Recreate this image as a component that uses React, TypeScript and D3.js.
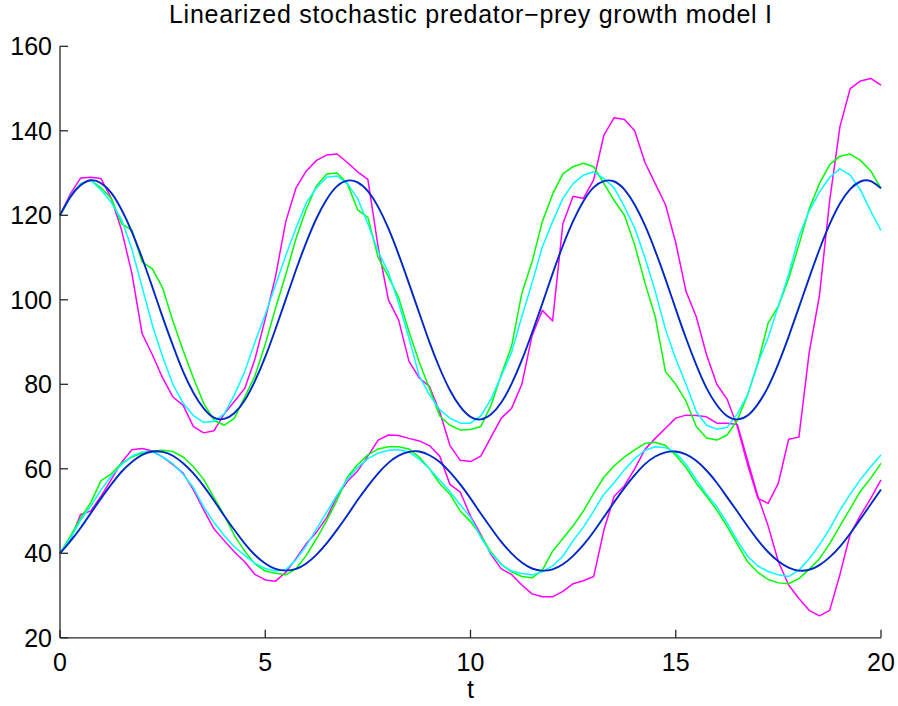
import React from "react";
import * as d3 from "d3";

const T_STEP = 0.25;
const X_TICKS = [0, 5, 10, 15, 20];
const Y_TICKS = [20, 40, 60, 80, 100, 120, 140, 160];
const TITLE = "Linearized stochastic predator\u2212prey growth model I";
const X_LABEL = "t";

// deterministic (blue) prey and predator
const blueUpper = [
  120.0, 124.3, 127.1, 128.3, 127.6, 125.3, 121.3, 116.1, 109.9, 103.0,
  95.9, 89.2, 83.0, 78.0, 74.3, 72.1, 71.8, 73.2, 76.2, 80.8,
  86.5, 93.1, 100.1, 107.1, 113.6, 119.3, 123.8, 126.9, 128.2, 127.8,
  125.7, 122.0, 116.9, 110.7, 103.9, 96.9, 90.0, 83.8, 78.6, 74.7,
  72.3, 71.7, 72.9, 75.7, 80.1, 85.7, 92.2, 99.1, 106.2, 112.8,
  118.6, 123.3, 126.6, 128.1, 128.0, 126.1, 122.5, 117.6, 111.6, 104.9,
  97.8, 90.9, 84.6, 79.1, 75.1, 72.5, 71.7, 72.6, 75.3, 79.4,
  84.9, 91.3, 98.2, 105.2, 111.9, 117.9, 122.8, 126.2, 128.0, 128.1,
  126.4,
];
const blueLower = [
  40.0, 42.8, 46.0, 49.5, 53.0, 56.3, 59.3, 61.6, 63.3, 64.1,
  64.0, 63.1, 61.3, 58.9, 55.9, 52.5, 48.9, 45.5, 42.3, 39.6,
  37.6, 36.3, 35.9, 36.3, 37.6, 39.7, 42.4, 45.6, 49.0, 52.6,
  55.9, 58.9, 61.4, 63.1, 64.0, 64.1, 63.2, 61.6, 59.2, 56.3,
  53.0, 49.4, 46.0, 42.7, 40.0, 37.8, 36.4, 35.9, 36.2, 37.4,
  39.4, 42.0, 45.1, 48.6, 52.1, 55.5, 58.5, 61.1, 62.9, 63.9,
  64.1, 63.4, 61.9, 59.6, 56.7, 53.3, 49.9, 46.4, 43.1, 40.3,
  38.1, 36.6, 35.9, 36.1, 37.2, 39.1, 41.6, 44.7, 48.1, 51.6,
  55.1,
];

const greenUpper = [
  120, 124.5, 127.5, 128.3, 126.5, 124, 118, 116.5, 109, 107.3,
  102.8, 95, 88, 81.5, 75.5, 71.5, 70.3, 72, 77, 82,
  89.5, 98, 106, 114.5, 121.5, 127, 129.8, 130, 127.5, 121.3,
  119.5, 110, 105.5, 100.5, 92.5, 85.3, 79, 72.5, 70.3, 69.2,
  69.3, 70, 75, 82.3, 89, 101.5, 109, 118.5, 125, 129.8,
  131.5, 132.3, 131.5, 127.5, 123.5, 120, 113, 104, 96, 83,
  80, 76, 70, 67.3, 66.8, 68, 71.5, 77.5, 85, 94.5,
  98.5, 105, 113, 121.5, 127.5, 132, 134, 134.5, 133, 130.5,
  126.4,
];
const greenLower = [
  40, 44, 48.3, 52, 57.2, 58.8, 61.3, 62.8, 63.7, 64.2,
  64.4, 64.1, 62.8, 60.5, 57.5, 53.2, 49, 44.2, 40.5, 37.5,
  35.8, 35.3, 34.9, 36.3, 39.5, 43.5, 47.8, 52.6, 58, 61,
  63.3, 64.7, 65.2, 65.2, 64.7, 62.8, 60, 56.5, 54, 50,
  47.5, 44.2, 40.3, 37.4, 35.6, 34.5, 34.2, 36, 40.5, 43.5,
  46.5, 50, 54.2, 58, 60.7, 62.8, 64.5, 66, 66.3, 65.5,
  63.2, 60.3, 56.6, 53.5, 50.2, 46.4, 42.2, 38, 35.5, 33.8,
  33, 32.8, 34, 36.2, 38.7, 42.3, 46.5, 50.6, 54.7, 57.8,
  61.3,
];

const cyanUpper = [
  120, 124.5, 127.5, 128.3, 126, 123, 119, 112, 103, 94,
  86.5, 80, 75.5, 72.6, 71, 71.2, 73, 77.5, 83, 90,
  96.5, 103.5, 110.5, 117, 123, 126.5, 129, 129.3, 127.5, 124,
  118, 111.5, 106.5, 99.2, 91, 82, 77.5, 74, 72, 70.8,
  70.8, 72.5, 76.5, 82, 87.5, 96, 104, 112.5, 118.5, 124,
  127.5, 129.5, 130.3, 128.7, 126.5, 122, 117, 110, 102, 93,
  86, 80, 73.5, 70.3, 69.4, 69.8, 73, 77.5, 85, 91,
  98.5, 106, 115, 121, 125.5, 129, 131, 129.5, 126, 121,
  116.4,
];
const cyanLower = [
  40, 43.5, 47.8, 51.2, 55, 58.3, 61, 63, 64, 64,
  62.8, 61.2, 58.7, 55.5, 51, 47.3, 44.2, 41.5, 39.5, 37.6,
  36.4, 35.8, 36.1, 38.5, 41.8, 45.8, 49.8, 53.8, 57.5, 60.3,
  62.4, 63.7, 64.4, 64.5, 64, 62.3, 60, 57.3, 54.6, 51.5,
  48.5, 43.8, 40, 37.4, 35.8, 35.2, 34.9, 35.6, 37, 39.3,
  43, 46.2, 50, 54, 56.7, 59.8, 62.4, 64.4, 65.2, 65,
  63.8, 61.1, 57.4, 54, 51, 47.2, 43, 39.3, 37, 35.7,
  34.9, 34.5, 36, 38.7, 42, 45.8, 50.2, 54, 57.5, 60.5,
  63.3,
];

const magentaUpper = [
  120, 125, 128.8, 129, 128.7, 124, 116.5, 106.3, 92, 87,
  81.5, 77, 75, 70, 68.5, 69, 73, 76, 79, 86,
  95.5, 105.5, 118.5, 126.5, 130.5, 133, 134.3, 134.5, 132.5, 130.3,
  128.5, 112.5, 100, 95.2, 85.5, 81.5, 79.5, 73.5, 65.5, 62,
  61.7, 63, 67.5, 72, 74.3, 80, 91.5, 97.5, 95, 118,
  124.5, 124, 128.4, 139, 143.1, 142.7, 140, 132.5, 127.5, 122.5,
  113.5, 102, 96, 87, 80, 76.5, 70, 61, 53, 51.8,
  56.6, 67, 67.5, 87.5, 101, 123.5, 141, 150, 151.8, 152.4,
  150.8,
];
const magentaLower = [
  40, 43, 49.2, 50, 53.5, 57.5, 61.5, 64.5, 64.8, 64.2,
  62.8, 61, 59, 55, 50.3, 45.8, 43, 40.3, 38, 35,
  33.7, 33.4, 35.5, 38.8, 42.3, 45, 48.5, 53.5, 57, 59.5,
  63, 66.8, 68, 67.9, 67.2, 66.6, 65.5, 63, 56.3, 54.5,
  48.8, 44.5, 39.7, 36.3, 35, 32.5, 30.4, 29.7, 29.7, 31,
  32.8, 33.5, 34.5, 45.5, 53.5, 56, 60, 64.6, 67.2, 69.6,
  72, 72.7, 72.6, 72.3, 70.8, 70.8, 70.5, 62, 53.5, 46.5,
  38, 32.5, 29.3, 26.5, 25.2, 26.5, 35, 44.5, 49, 53,
  57.4,
];

const MAGENTA = "#ff00ff";
const GREEN = "#00ff00";
const CYAN = "#00ffff";
const BLUE = "#0028c8";

const W = 898;
const H = 706;
const LEFT = 60;
const RIGHT = 881;
const TOP = 46.3;
const BOTTOM = 637.8;
const AXIS = "#262626";
const FONT = "'Liberation Sans', Arial, Helvetica, sans-serif";

export default function App() {
  const x = d3.scaleLinear().domain([0, 20]).range([LEFT, RIGHT]);
  const y = d3.scaleLinear().domain([20, 160]).range([BOTTOM, TOP]);

  const noisy = d3
    .line<number>()
    .x((_, i) => x(i * T_STEP))
    .y((v) => y(v))
    .curve(d3.curveLinear);
  const smooth = d3
    .line<number>()
    .x((_, i) => x(i * T_STEP))
    .y((v) => y(v))
    .curve(d3.curveNatural);

  const series: { d: number[]; c: string; w: number; s: boolean }[] = [
    { d: magentaUpper, c: MAGENTA, w: 1.5, s: false },
    { d: magentaLower, c: MAGENTA, w: 1.5, s: false },
    { d: greenUpper, c: GREEN, w: 1.5, s: false },
    { d: greenLower, c: GREEN, w: 1.5, s: false },
    { d: cyanUpper, c: CYAN, w: 1.5, s: false },
    { d: cyanLower, c: CYAN, w: 1.5, s: false },
    { d: blueUpper, c: BLUE, w: 1.9, s: true },
    { d: blueLower, c: BLUE, w: 1.9, s: true },
  ];

  return (
    <svg
      width={W}
      height={H}
      style={{ position: "absolute", left: 0, top: 0, background: "#fff" }}
      fontFamily={FONT}
    >
      <rect x={0} y={0} width={W} height={H} fill="#fff" />
      <text x={(LEFT + RIGHT) / 2} y={23} textAnchor="middle" fontSize={25} fill="#000" textLength={603}>
        {TITLE}
      </text>
      {series.map((s, i) => (
        <path
          key={i}
          d={(s.s ? smooth : noisy)(s.d) || ""}
          fill="none"
          stroke={s.c}
          strokeWidth={s.w}
          strokeLinejoin="round"
        />
      ))}
      {/* axes */}
      <line x1={LEFT} x2={LEFT} y1={y(160)} y2={BOTTOM} stroke={AXIS} strokeWidth={1.3} />
      <line x1={LEFT} x2={RIGHT} y1={BOTTOM} y2={BOTTOM} stroke={AXIS} strokeWidth={1.3} />
      {Y_TICKS.map((v) => (
        <g key={"y" + v}>
          <line x1={LEFT} x2={LEFT + 8} y1={y(v)} y2={y(v)} stroke={AXIS} strokeWidth={1.3} />
          <text x={LEFT - 8} y={y(v) + 9} textAnchor="end" fontSize={25} fill="#000">
            {v}
          </text>
        </g>
      ))}
      {X_TICKS.map((v) => (
        <g key={"x" + v}>
          <line x1={x(v)} x2={x(v)} y1={BOTTOM} y2={BOTTOM - 8} stroke={AXIS} strokeWidth={1.3} />
          <text x={x(v)} y={671} textAnchor="middle" fontSize={25} fill="#000">
            {v}
          </text>
        </g>
      ))}
      <text x={(LEFT + RIGHT) / 2} y={698} textAnchor="middle" fontSize={25} fill="#000">
        {X_LABEL}
      </text>
    </svg>
  );
}
